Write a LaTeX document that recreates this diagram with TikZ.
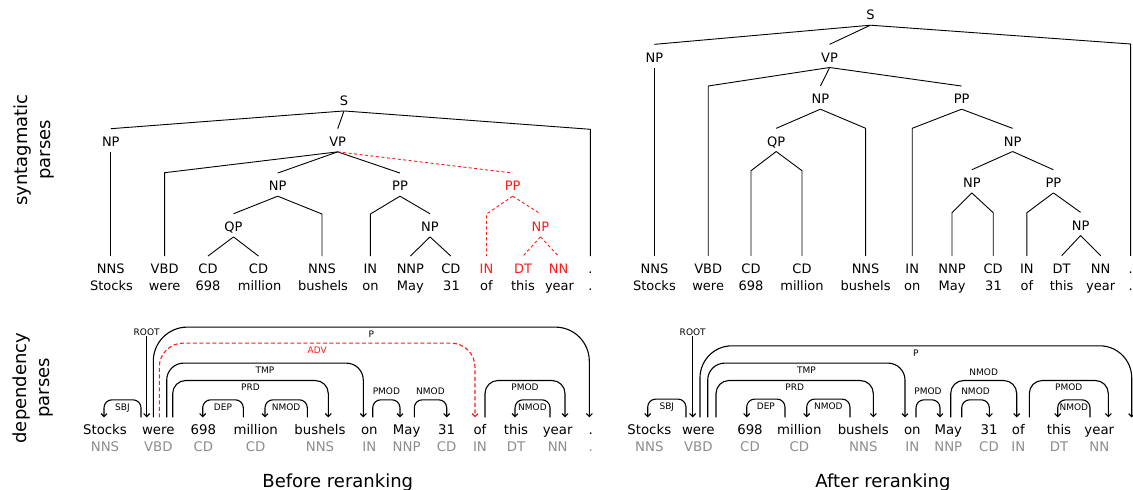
\documentclass[tikz,border=0pt]{standalone}
\usepackage{fontspec}
\setmainfont{DejaVu Sans}
\usetikzlibrary{arrows.meta}
\definecolor{posgray}{HTML}{8C8C8C}
\definecolor{errred}{HTML}{FF1A1A}
\begin{document}
\begin{tikzpicture}[x=1pt,y=-1pt,
  tl/.style={font=\fontsize{13}{13}\selectfont, text height=17.5pt, text depth=5.25pt, inner sep=0pt, anchor=base},
  wd/.style={font=\fontsize{13}{13}\selectfont, inner sep=0pt, anchor=base},
  bad/.style={text=errred},
  tedge/.style={line width=0.9pt, black},
  redge/.style={line width=0.9pt, errred, dash pattern=on 3pt off 2.5pt},
  dw/.style={font=\fontsize{13.3}{13.3}\selectfont, text height=17pt, text depth=4pt, inner sep=0pt, anchor=base},
  dp/.style={font=\fontsize{13.3}{13.3}\selectfont, inner sep=0pt, anchor=base, text=posgray},
  arc/.style={line width=1.1pt, -{Straight Barb[length=3pt,width=6pt]}},
  redarc/.style={arc, errred, dash pattern=on 4pt off 2.5pt},
  lb/.style={font=\fontsize{9}{9}\selectfont, inner sep=0pt, text height=6.5pt, text depth=0pt, anchor=north, yshift=-3.2pt},
  la/.style={font=\fontsize{9}{9}\selectfont, inner sep=0pt, text height=6.5pt, text depth=0pt, anchor=south, yshift=4.8pt},
  side/.style={font=\fontsize{18}{23}\selectfont, rotate=90, align=center, inner sep=0pt},
  title/.style={font=\fontsize{18}{18}\selectfont, inner sep=0pt, anchor=base}
]
\useasboundingbox (0,0) rectangle (1133,490);

% ---------------- side labels ----------------
\node[side] (sideT) at (34,150) {syntagmatic\\parses};
\node[side] (sideD) at (33,388) {dependency\\parses};
\node[title] (tB) at (337.8,487) {Before reranking};
\node[title] (tA) at (883,487) {After reranking};

% ================= LEFT TREE =================
\node[tl] (lS) at (344,105.5) {S};
\node[tl] (lNP1) at (110.8,146.4) {NP};
\node[tl] (lVP) at (337.7,146.4) {VP};
\node[tl] (lNP2) at (277.7,190.75) {NP};
\node[tl] (lPP2) at (400,190.75) {PP};
\node[tl,bad] (lPPr) at (512.7,190.75) {PP};
\node[tl] (lQP) at (233.5,231.45) {QP};
\node[tl] (lNP3) at (430,231.45) {NP};
\node[tl,bad] (lNPr) at (540.4,231.45) {NP};
% preterminals
\node[tl] (lp1) at (110.8,273.75) {NNS};
\node[tl] (lp2) at (164.6,273.75) {VBD};
\node[tl] (lp3) at (208,273.75) {CD};
\node[tl] (lp4) at (258.5,273.75) {CD};
\node[tl] (lp5) at (322,273.75) {NNS};
\node[tl] (lp6) at (370.4,273.75) {IN};
\node[tl] (lp7) at (410.4,273.75) {NNP};
\node[tl] (lp8) at (450.8,273.75) {CD};
\node[tl,bad] (lp9) at (486.5,273.75) {IN};
\node[tl,bad] (lp10) at (523,273.75) {DT};
\node[tl,bad] (lp11) at (558.5,273.75) {NN};
\node[tl] (lp12) at (590.4,273.75) {.};
% words
\node[wd] (lw1) at (111.5,290) {Stocks};
\node[wd] (lw2) at (164.6,290) {were};
\node[wd] (lw3) at (208,290) {698};
\node[wd] (lw4) at (259.6,290) {million};
\node[wd] (lw5) at (323,290) {bushels};
\node[wd] (lw6) at (370.4,290) {on};
\node[wd] (lw7) at (410.4,290) {May};
\node[wd] (lw8) at (451.5,290) {31};
\node[wd] (lw9) at (486.5,290) {of};
\node[wd] (lw10) at (523,290) {this};
\node[wd] (lw11) at (559.5,290) {year};
\node[wd] (lw12) at (590.4,290) {.};
% knees
\coordinate (lk12) at (590.4,129.3);
\coordinate (lk2) at (164.6,172.7);
\coordinate (lk5) at (322,214);
\coordinate (lk6) at (370.4,214);
\coordinate (lk9) at (486.5,214);
% edges
\draw[tedge] (lS.south) -- (lNP1.north);
\draw[tedge] (lS.south) -- (lVP.north);
\draw[tedge] (lS.south) -- (lk12) -- (lp12.north);
\draw[tedge] (lNP1.south) -- (lp1.north);
\draw[tedge] (lVP.south) -- (lk2) -- (lp2.north);
\draw[tedge] (lVP.south) -- (lNP2.north);
\draw[tedge] (lVP.south) -- (lPP2.north);
\draw[redge] (lVP.south) -- (lPPr.north);
\draw[tedge] (lNP2.south) -- (lQP.north);
\draw[tedge] (lNP2.south) -- (lk5) -- (lp5.north);
\draw[tedge] (lQP.south) -- (lp3.north);
\draw[tedge] (lQP.south) -- (lp4.north);
\draw[tedge] (lPP2.south) -- (lk6) -- (lp6.north);
\draw[tedge] (lPP2.south) -- (lNP3.north);
\draw[tedge] (lNP3.south) -- (lp7.north);
\draw[tedge] (lNP3.south) -- (lp8.north);
\draw[redge] (lPPr.south) -- (lk9) -- (lp9.north);
\draw[redge] (lPPr.south) -- (lNPr.north);
\draw[redge] (lNPr.south) -- (lp10.north);
\draw[redge] (lNPr.south) -- (lp11.north);

% ================= RIGHT TREE =================
\node[tl] (rS) at (870.4,19.75) {S};
\node[tl] (rNP1) at (654.4,62.05) {NP};
\node[tl] (rVP) at (829.6,62.05) {VP};
\node[tl] (rNP2) at (820.4,103.75) {NP};
\node[tl] (rPP2) at (961.6,103.75) {PP};
\node[tl] (rQP) at (776.2,146.05) {QP};
\node[tl] (rNP3) at (1012.6,146.05) {NP};
\node[tl] (rNP4) at (971.8,187.45) {NP};
\node[tl] (rPP4) at (1053.4,187.45) {PP};
\node[tl] (rNP5) at (1080.6,230.05) {NP};
% preterminals
\node[tl] (rp1) at (654.4,273.5) {NNS};
\node[tl] (rp2) at (708.2,273.5) {VBD};
\node[tl] (rp3) at (751,273.5) {CD};
\node[tl] (rp4) at (802,273.5) {CD};
\node[tl] (rp5) at (865.6,273.5) {NNS};
\node[tl] (rp6) at (912.2,273.5) {IN};
\node[tl] (rp7) at (952,273.5) {NNP};
\node[tl] (rp8) at (993.2,273.5) {CD};
\node[tl] (rp9) at (1026.9,273.5) {IN};
\node[tl] (rp10) at (1061.6,273.5) {DT};
\node[tl] (rp11) at (1100.7,273.5) {NN};
\node[tl] (rp12) at (1130.6,273.5) {.};
% words
\node[wd] (rw1) at (654.4,290) {Stocks};
\node[wd] (rw2) at (708.2,290) {were};
\node[wd] (rw3) at (751,290) {698};
\node[wd] (rw4) at (802,290) {million};
\node[wd] (rw5) at (865.6,290) {bushels};
\node[wd] (rw6) at (912.2,290) {on};
\node[wd] (rw7) at (952,290) {May};
\node[wd] (rw8) at (993.5,290) {31};
\node[wd] (rw9) at (1027,290) {of};
\node[wd] (rw10) at (1061.6,290) {this};
\node[wd] (rw11) at (1100.7,290) {year};
\node[wd] (rw12) at (1130.6,290) {.};
% knees
\coordinate (rk12) at (1130.6,44);
\coordinate (rk2) at (708.2,86);
\coordinate (rk5) at (865.6,128.3);
\coordinate (rk6) at (912.2,128.3);
\coordinate (rk3) at (751,170.7);
\coordinate (rk4) at (802,170.7);
\coordinate (rk7) at (952,212.7);
\coordinate (rk8) at (993.2,212.7);
\coordinate (rk9) at (1026.9,212.7);
% edges
\draw[tedge] (rS.south) -- (rNP1.north);
\draw[tedge] (rS.south) -- (rVP.north);
\draw[tedge] (rS.south) -- (rk12) -- (rp12.north);
\draw[tedge] (rNP1.south) -- (rp1.north);
\draw[tedge] (rVP.south) -- (rk2) -- (rp2.north);
\draw[tedge] (rVP.south) -- (rNP2.north);
\draw[tedge] (rVP.south) -- (rPP2.north);
\draw[tedge] (rNP2.south) -- (rQP.north);
\draw[tedge] (rNP2.south) -- (rk5) -- (rp5.north);
\draw[tedge] (rQP.south) -- (rk3) -- (rp3.north);
\draw[tedge] (rQP.south) -- (rk4) -- (rp4.north);
\draw[tedge] (rPP2.south) -- (rk6) -- (rp6.north);
\draw[tedge] (rPP2.south) -- (rNP3.north);
\draw[tedge] (rNP3.south) -- (rNP4.north);
\draw[tedge] (rNP3.south) -- (rPP4.north);
\draw[tedge] (rNP4.south) -- (rk7) -- (rp7.north);
\draw[tedge] (rNP4.south) -- (rk8) -- (rp8.north);
\draw[tedge] (rPP4.south) -- (rk9) -- (rp9.north);
\draw[tedge] (rPP4.south) -- (rNP5.north);
\draw[tedge] (rNP5.south) -- (rp10.north);
\draw[tedge] (rNP5.south) -- (rp11.north);

% ================= LEFT DEPENDENCY =================
\node[dw] (a1) at (105,434.5) {Stocks};
\node[dw] (a2) at (158.3,434.5) {were};
\node[dw] (a3) at (203.3,434.5) {698};
\node[dw] (a4) at (255.7,434.5) {million};
\node[dw] (a5) at (320,434.5) {bushels};
\node[dw] (a6) at (369.3,434.5) {on};
\node[dw] (a7) at (406.7,434.5) {May};
\node[dw] (a8) at (446.7,434.5) {31};
\node[dw] (a9) at (480,434.5) {of};
\node[dw] (a10) at (516,434.5) {this};
\node[dw] (a11) at (557.7,434.5) {year};
\node[dw] (a12) at (590.7,434.5) {.};
\node[dp] (ap1) at (105,451) {NNS};
\node[dp] (ap2) at (158.3,451) {VBD};
\node[dp] (ap3) at (203.3,451) {CD};
\node[dp] (ap4) at (255.7,451) {CD};
\node[dp] (ap5) at (320,451) {NNS};
\node[dp] (ap6) at (369.3,451) {IN};
\node[dp] (ap7) at (406.7,451) {NNP};
\node[dp] (ap8) at (446.7,451) {CD};
\node[dp] (ap9) at (480,451) {IN};
\node[dp] (ap10) at (516,451) {DT};
\node[dp] (ap11) at (557.7,451) {NN};
\node[dp] (ap12) at (590.7,451) {.};
% root
\coordinate (aroot) at (146.7,335.5);
\node[la, yshift=-5pt] (arootl) at (aroot) {ROOT};
\draw[arc] (aroot) -- ([xshift=-11.6pt]a2.north);
% arcs
\draw[arc, rounded corners=8pt] ([xshift=-17.3pt]a2.north) -- ++(0,-17.5) -| node[pos=0.25,lb]{SBJ} ([xshift=-1pt]a1.north);
\draw[arc, rounded corners=34pt] ([xshift=-5pt]a2.north) -- ++(0,-90.2) -| node[pos=0.25,lb]{P} ([xshift=-1.4pt]a12.north);
\draw[redarc, rounded corners=24pt] ([xshift=1pt]a2.north) -- ++(0,-74.2) -| node[pos=0.25,lb,text=errred]{ADV} ([xshift=-5pt]a9.north);
\draw[arc, rounded corners=17pt] ([xshift=8.4pt]a2.north) -- ++(0,-54.2) -| node[pos=0.25,lb]{TMP} ([xshift=-6pt]a6.north);
\draw[arc, rounded corners=13pt] ([xshift=14.4pt]a2.north) -- ++(0,-36.8) -| node[pos=0.25,lb]{PRD} ([xshift=8.3pt]a5.north);
\draw[arc, rounded corners=8pt] ([xshift=-12.4pt]a4.north) -- ++(0,-17.5) -| node[pos=0.25,lb]{DEP} ([xshift=-0.6pt]a3.north);
\draw[arc, rounded corners=8pt] ([xshift=-12.7pt]a5.north) -- ++(0,-17.5) -| node[pos=0.25,lb]{NMOD} ([xshift=9.3pt]a4.north);
\draw[arc, rounded corners=8pt] ([xshift=3.4pt]a6.north) -- ++(0,-17.5) -| node[pos=0.25,la]{PMOD} ([xshift=-6.7pt]a7.north);
\draw[arc, rounded corners=8pt] ([xshift=7.6pt]a7.north) -- ++(0,-17.5) -| node[pos=0.25,la]{NMOD} ([xshift=0pt]a8.north);
\draw[arc, rounded corners=13pt] ([xshift=5pt]a9.north) -- ++(0,-36.8) -| node[pos=0.25,lb]{PMOD} ([xshift=7.3pt]a11.north);
\draw[arc, rounded corners=8pt] ([xshift=-7.7pt]a11.north) -- ++(0,-17.5) -| node[pos=0.25,lb]{NMOD} ([xshift=-1pt]a10.north);

% ================= RIGHT DEPENDENCY =================
\node[dw] (b1) at (649.3,434.5) {Stocks};
\node[dw] (b2) at (698.3,434.5) {were};
\node[dw] (b3) at (750,434.5) {698};
\node[dw] (b4) at (799.3,434.5) {million};
\node[dw] (b5) at (863.3,434.5) {bushels};
\node[dw] (b6) at (912.3,434.5) {on};
\node[dw] (b7) at (948.3,434.5) {May};
\node[dw] (b8) at (989,434.5) {31};
\node[dw] (b9) at (1018.3,434.5) {of};
\node[dw] (b10) at (1059,434.5) {this};
\node[dw] (b11) at (1099.3,434.5) {year};
\node[dp] (bp1) at (649.3,451) {NNS};
\node[dp] (bp2) at (698.3,451) {VBD};
\node[dp] (bp3) at (750,451) {CD};
\node[dp] (bp4) at (799.3,451) {CD};
\node[dp] (bp5) at (863.3,451) {NNS};
\node[dp] (bp6) at (912.3,451) {IN};
\node[dp] (bp7) at (948.3,451) {NNP};
\node[dp] (bp8) at (989,451) {CD};
\node[dp] (bp9) at (1018.3,451) {IN};
\node[dp] (bp10) at (1059,451) {DT};
\node[dp] (bp11) at (1099.3,451) {NN};
\coordinate (bdot) at (1131.7,417.5);
% root
\coordinate (broot) at (692.7,335.5);
\node[la, yshift=-5pt] (brootl) at (broot) {ROOT};
\draw[arc] (broot) -- ([xshift=-5.6pt]b2.north);
% arcs
\draw[arc, rounded corners=8pt] ([xshift=-12.3pt]b2.north) -- ++(0,-18.2) -| node[pos=0.25,lb]{SBJ} ([xshift=-1.6pt]b1.north);
\draw[arc, rounded corners=32pt] ([xshift=1.7pt]b2.north) -- ++(0,-71.5) -| node[pos=0.25,lb]{P} (bdot);
\draw[arc, rounded corners=17pt] ([xshift=9.4pt]b2.north) -- ++(0,-54.2) -| node[pos=0.25,lb]{TMP} ([xshift=-7.3pt]b6.north);
\draw[arc, rounded corners=13pt] ([xshift=17.7pt]b2.north) -- ++(0,-36.8) -| node[pos=0.25,lb]{PRD} ([xshift=10pt]b5.north);
\draw[arc, rounded corners=8pt] ([xshift=-14.3pt]b4.north) -- ++(0,-18.2) -| node[pos=0.25,lb]{DEP} ([xshift=-3.3pt]b3.north);
\draw[arc, rounded corners=8pt] ([xshift=-13.3pt]b5.north) -- ++(0,-18.2) -| node[pos=0.25,lb]{NMOD} ([xshift=7.4pt]b4.north);
\draw[arc, rounded corners=8pt] ([xshift=3.7pt]b6.north) -- ++(0,-17.5) -| node[pos=0.25,la]{PMOD} ([xshift=-8.3pt]b7.north);
\draw[arc, rounded corners=13pt] ([xshift=2.4pt]b7.north) -- ++(0,-36.8) -| node[pos=0.25,la]{NMOD} ([xshift=-1.6pt]b9.north);
\draw[arc, rounded corners=8pt] ([xshift=13.4pt]b7.north) -- ++(0,-17.5) -| node[pos=0.25,la]{NMOD} ([xshift=0.3pt]b8.north);
\draw[arc, rounded corners=13pt] ([xshift=11pt]b9.north) -- ++(0,-36.8) -| node[pos=0.25,lb]{PMOD} ([xshift=9pt]b11.north);
\draw[arc, rounded corners=8pt] ([xshift=-9.3pt]b11.north) -- ++(0,-17.5) -| node[pos=0.25,lb]{NMOD} ([xshift=-1.3pt]b10.north);
\end{tikzpicture}
\end{document}
